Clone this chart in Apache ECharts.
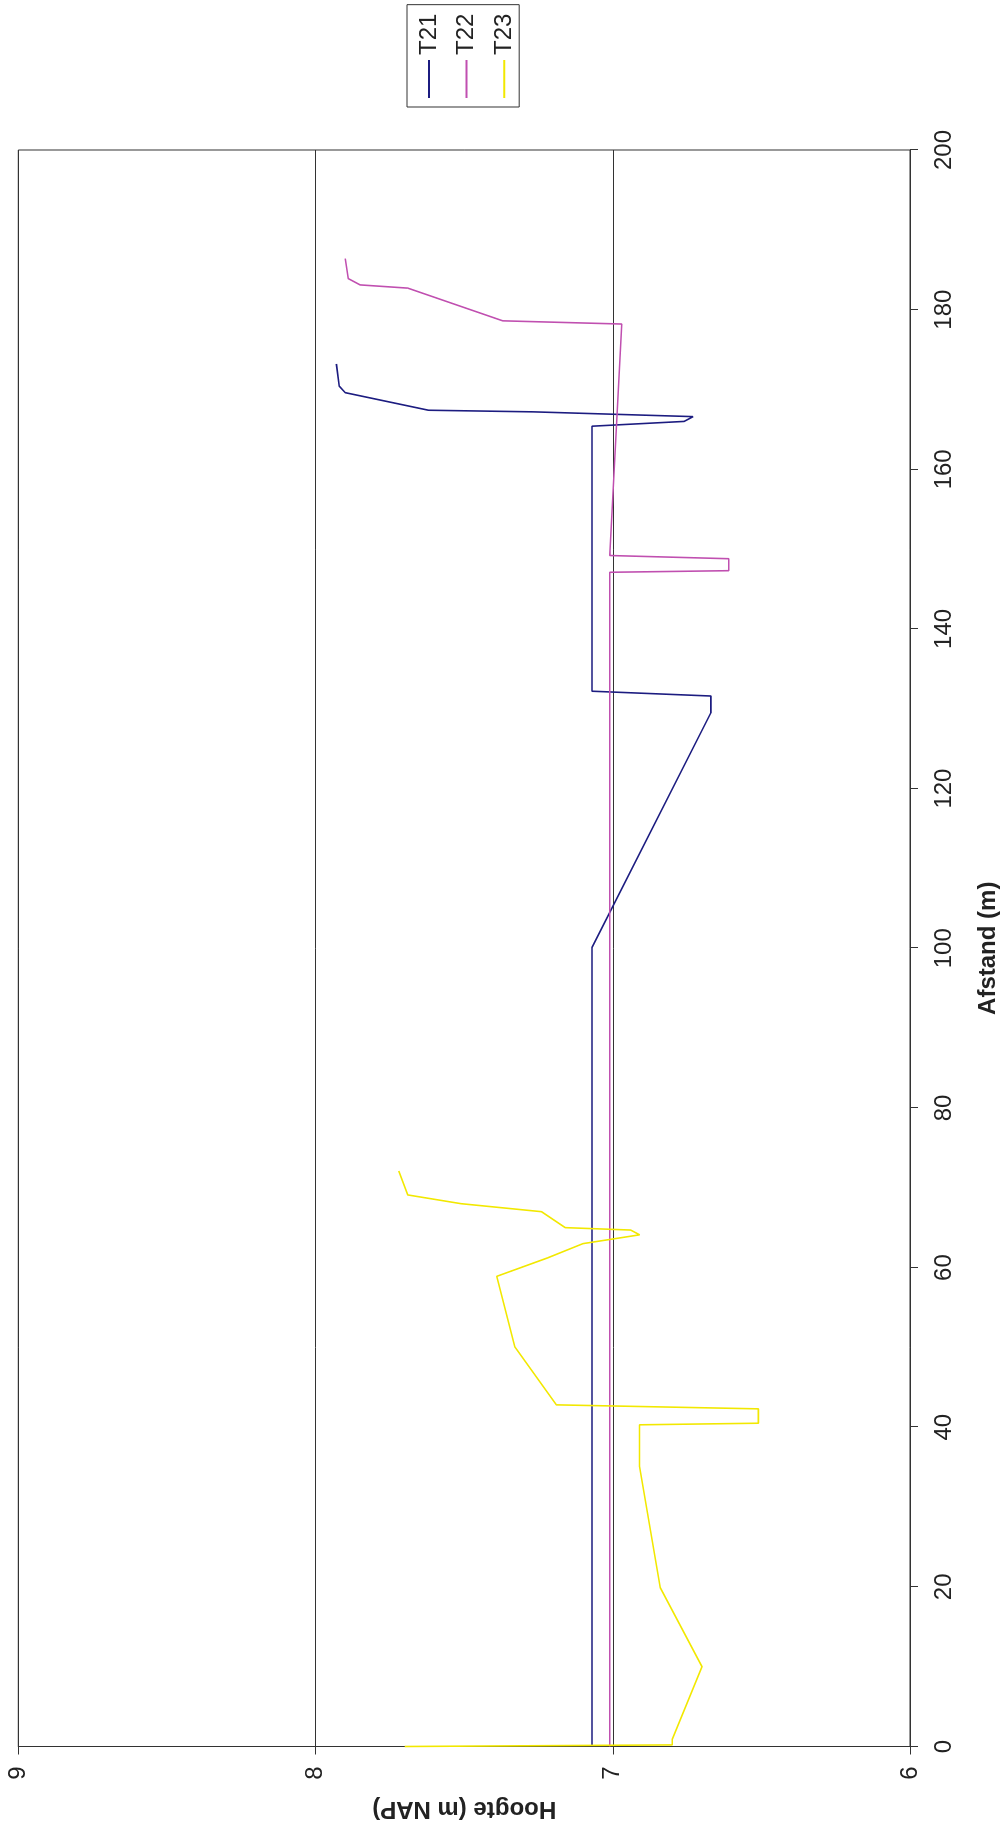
<!DOCTYPE html>
<html>
<head>
<meta charset="utf-8">
<script src="https://cdn.jsdelivr.net/npm/echarts@6/dist/echarts.min.js"></script>
<style>
  html, body { margin: 0; padding: 0; width: 1008px; height: 1834px; overflow: hidden; background: #fff; }
  #wrap { position: absolute; left: 0; top: 0; width: 1834px; height: 1008px;
          transform-origin: 0 0; transform: translate(0px, 1834px) rotate(-90deg); }
  #chart { width: 1834px; height: 1008px; }
</style>
</head>
<body>
<div id="wrap"><div id="chart"></div></div>
<script>
// ---- data (Afstand in m, Hoogte in m NAP) ----
const seriesNames = ['T21', 'T22', 'T23'];

const t21Afstand = [0, 100.1, 129.5, 131.6, 132.2, 165.4, 166.0, 166.6, 167.2, 167.4, 169.6, 170.4, 173.2];
const t21Hoogte  = [7.07, 7.07, 6.67, 6.67, 7.07, 7.07, 6.76, 6.73, 7.27, 7.62, 7.90, 7.92, 7.93];

const t22Afstand = [0, 147.1, 147.3, 148.8, 149.2, 178.2, 178.6, 182.7, 183.1, 183.9, 186.4];
const t22Hoogte  = [7.01, 7.01, 6.61, 6.61, 7.01, 6.97, 7.37, 7.69, 7.85, 7.89, 7.90];

const t23Afstand = [0, 0.2, 0.9, 10.0, 19.9, 35.1, 40.3, 40.5, 42.3, 42.8, 50.1, 58.9, 61.2, 63.0, 64.1, 64.7, 65.0, 67.0, 68.0, 69.1, 72.1];
const t23Hoogte  = [7.70, 6.80, 6.80, 6.70, 6.84, 6.91, 6.91, 6.51, 6.51, 7.19, 7.33, 7.39, 7.22, 7.10, 6.91, 6.94, 7.16, 7.24, 7.51, 7.69, 7.72];

const afstandTicks = [0, 20, 40, 60, 80, 100, 120, 140, 160, 180, 200];
const hoogteTicks = [6, 7, 8, 9];

const colors = ['#1c1c80', '#c04fb0', '#f2e800'];

function pairs(xs, ys) { return xs.map((x, i) => [x, ys[i]]); }
const allData = [pairs(t21Afstand, t21Hoogte), pairs(t22Afstand, t22Hoogte), pairs(t23Afstand, t23Hoogte)];

const FONT = '"Liberation Sans", Arial, Helvetica, sans-serif';
const chart = echarts.init(document.getElementById('chart'), null, { renderer: 'canvas', width: 1834, height: 1008 });

chart.setOption({
  animation: false,
  backgroundColor: '#ffffff',
  textStyle: { fontFamily: FONT },
  grid: { left: 87.5, right: 150, top: 18.3, bottom: 98, show: true, borderColor: '#333', borderWidth: 1, backgroundColor: 'transparent' },
  legend: {
    orient: 'vertical',
    left: 1727, top: 407,
    padding: [10, 9, 3, 9],
    itemWidth: 38, itemHeight: 2, itemGap: 13.6,
    icon: 'rect',
    borderColor: '#333', borderWidth: 1, backgroundColor: '#fff',
    textStyle: { fontFamily: FONT, fontSize: 24, lineHeight: 24, color: '#222' },
    data: seriesNames
  },
  xAxis: {
    type: 'value', min: afstandTicks[0], max: afstandTicks[afstandTicks.length - 1], interval: 20,
    position: 'bottom',
    axisLine: { show: true, lineStyle: { color: '#333', width: 1 } },
    axisTick: { show: true, inside: false, length: 8, lineStyle: { color: '#333' } },
    axisLabel: { fontFamily: FONT, fontSize: 24, color: '#222', margin: 22 },
    splitLine: { show: false },
    name: 'Afstand (m)', nameLocation: 'middle', nameGap: 66,
    nameTextStyle: { fontFamily: FONT, fontSize: 24, fontWeight: 'bold', color: '#222' }
  },
  yAxis: {
    type: 'value', min: hoogteTicks[0], max: hoogteTicks[hoogteTicks.length - 1], interval: 1,
    axisLine: { show: true, lineStyle: { color: '#333', width: 1 } },
    axisTick: { show: true, inside: false, length: 8, lineStyle: { color: '#333' } },
    axisLabel: { fontFamily: FONT, fontSize: 24, color: '#222', margin: 20 },
    splitLine: { show: true, lineStyle: { color: '#333', width: 1 } },
    name: 'Hoogte (m NAP)', nameLocation: 'middle', nameGap: 50, nameRotate: 90,
    nameTextStyle: { fontFamily: FONT, fontSize: 24, fontWeight: 'bold', color: '#222' }
  },
  series: seriesNames.map((n, i) => ({
    name: n, type: 'line', data: allData[i],
    showSymbol: false, symbol: 'none',
    color: colors[i],
    lineStyle: { color: colors[i], width: 1.6 },
    itemStyle: { color: colors[i] }
  }))
});
</script>
</body>
</html>
